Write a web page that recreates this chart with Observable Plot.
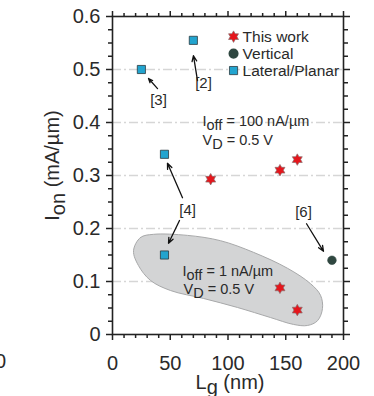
<!DOCTYPE html>
<html>
<head>
<meta charset="utf-8">
<script src="https://cdn.jsdelivr.net/npm/d3@7"></script>
<script src="https://cdn.jsdelivr.net/npm/@observablehq/plot@0.6"></script>
<style>
  html, body { margin: 0; padding: 0; background: #fff; }
  #chart { width: 374px; height: 396px; overflow: hidden; }
</style>
</head>
<body>
<div id="chart"></div>
<script>
// ---- data ----
const thisWorkX = [85, 145, 160, 145, 160];
const thisWorkY = [0.293, 0.31, 0.33, 0.088, 0.046];
const verticalX = [190];
const verticalY = [0.14];
const lateralX = [25, 70, 45, 45];
const lateralY = [0.5, 0.555, 0.34, 0.15];

// shaded region (I_off = 1 nA/µm)
const blobX = [18.2, 24.2, 35.5, 64.9, 93.5, 122.1, 151.5, 171.4, 180.1, 181.8, 177.5, 168.8, 156.7, 136.8, 108.2, 78.8, 50.2, 32.9, 22.5];
const blobY = [0.158, 0.183, 0.189, 0.187, 0.177, 0.155, 0.125, 0.096, 0.074, 0.049, 0.026, 0.017, 0.019, 0.032, 0.051, 0.068, 0.083, 0.102, 0.130];

// reference labels and arrows
const refLabels = ["[3]", "[2]", "[4]", "[6]"];
const refLabelX = [39.8, 78.8, 65, 165.4];
const refLabelY = [0.442, 0.474, 0.234, 0.230];
const arrowX1 = [39, 73.6, 60.6, 58, 168];
const arrowY1 = [0.464, 0.479, 0.258, 0.215, 0.209];
const arrowX2 = [31.2, 70.1, 47.6, 48.5, 182.7];
const arrowY2 = [0.483, 0.526, 0.323, 0.172, 0.157];

// annotations
const noteText = ["I_{off} = 100 nA/µm", "V_{D} = 0.5 V", "I_{off} = 1 nA/µm", "V_{D} = 0.5 V"];
const noteX = [77.9, 77.9, 60.6, 61.5];
const noteY = [0.402, 0.366, 0.120, 0.086];

// legend
const legendLabels = ["This work", "Vertical", "Lateral/Planar"];
const legendY = [0.562, 0.530, 0.498];

// axes
const xTicks = [0, 50, 100, 150, 200];
const xTickLabels = ["0", "50", "100", "150", "200"];
const xMinor = [10, 20, 30, 40, 60, 70, 80, 90, 110, 120, 130, 140, 160, 170, 180, 190];
const yTicks = [0, 0.1, 0.2, 0.3, 0.4, 0.5, 0.6];
const yTickLabels = ["0", "0.1", "0.2", "0.3", "0.4", "0.5", "0.6"];
const yMinor = [0.025, 0.05, 0.075, 0.125, 0.15, 0.175, 0.225, 0.25, 0.275, 0.325, 0.35, 0.375, 0.425, 0.45, 0.475, 0.525, 0.55, 0.575];
const gridY = [0.1, 0.2, 0.3, 0.4, 0.5];

// ---- styling ----
const RED = "#e5161c", CYAN = "#22a4cf", DARK = "#2f4740";
const hexagram = {
  draw(context, size) {
    const R = Math.sqrt(size / Math.PI) * 1.15;
    const r = R / Math.sqrt(3);
    for (let k = 0; k < 12; k++) {
      const a = -Math.PI / 2 + k * Math.PI / 6;
      const rad = k % 2 === 0 ? R : r;
      const x = rad * Math.cos(a), y = rad * Math.sin(a);
      if (k === 0) context.moveTo(x, y); else context.lineTo(x, y);
    }
    context.closePath();
  }
};

const pts = (xs, ys) => xs.map((x, i) => ({x, y: ys[i]}));
const thisWork = pts(thisWorkX, thisWorkY);
const vertical = pts(verticalX, verticalY);
const lateral = pts(lateralX, lateralY);
const blob = pts(blobX, blobY);
const refs = refLabels.map((t, i) => ({t, x: refLabelX[i], y: refLabelY[i]}));
const arrows = arrowX1.map((x1, i) => ({x1, y1: arrowY1[i], x2: arrowX2[i], y2: arrowY2[i]}));
const notes = noteText.map((t, i) => ({t, x: noteX[i], y: noteY[i]}));
const legX = 104.8, legTextX = 112.6;

const TXT = "#2a2a2a";
const axisCommon = {label: null, stroke: "#222", strokeWidth: 1.5, color: TXT};

const chart = Plot.plot({
  width: 374,
  height: 396,
  marginLeft: 112,
  marginRight: 31,
  marginTop: 16,
  marginBottom: 62,
  x: {domain: [0, 200]},
  y: {domain: [0, 0.6]},
  style: {fontFamily: "'Liberation Sans', Arial, Helvetica, sans-serif", fontSize: "20px", color: TXT, background: "#fff", overflow: "visible"},
  marks: [
    Plot.ruleY(gridY, {stroke: "#d6d6d6", strokeWidth: 1.3, strokeDasharray: "9,3,2,3"}),
    Plot.line(blob, {x: "x", y: "y", curve: "catmull-rom-closed", fill: "#d3d4d5", stroke: "#a8a9aa", strokeWidth: 1}),
    // axes: major ticks (outward), minor ticks
    Plot.axisX({...axisCommon, anchor: "bottom", ticks: xTicks, tickSize: 6, tickPadding: 15, fontSize: 20,
      tickFormat: d => xTickLabels[xTicks.indexOf(d)]}),
    Plot.axisX({...axisCommon, anchor: "bottom", ticks: xMinor, tickSize: 4, tickFormat: () => ""}),
    Plot.axisX({...axisCommon, anchor: "top", ticks: xTicks, tickSize: 6, tickFormat: () => ""}),
    Plot.axisX({...axisCommon, anchor: "top", ticks: xMinor, tickSize: 4, tickFormat: () => ""}),
    Plot.axisY({...axisCommon, anchor: "left", ticks: yTicks, tickSize: 6, tickPadding: 6, fontSize: 20,
      tickFormat: d => yTickLabels[yTicks.findIndex(v => Math.abs(v - d) < 1e-9)]}),
    Plot.axisY({...axisCommon, anchor: "left", ticks: yMinor, tickSize: 4, tickFormat: () => ""}),
    Plot.axisY({...axisCommon, anchor: "right", ticks: yTicks, tickSize: 6, tickFormat: () => ""}),
    Plot.axisY({...axisCommon, anchor: "right", ticks: yMinor, tickSize: 4, tickFormat: () => ""}),
    Plot.frame({stroke: "#222", strokeWidth: 1.6}),
    // arrows
    Plot.arrow(arrows, {x1: "x1", y1: "y1", x2: "x2", y2: "y2", stroke: "#111", strokeWidth: 1.3, headLength: 7, headAngle: 45}),
    // data markers
    Plot.dot(lateral, {x: "x", y: "y", symbol: "square", r: 4.6, fill: CYAN, stroke: "#2a3a40", strokeWidth: 0.8}),
    Plot.dot(vertical, {x: "x", y: "y", symbol: "circle", r: 4.3, fill: DARK, stroke: DARK, strokeWidth: 0.6}),
    Plot.dot(thisWork, {x: "x", y: "y", symbol: hexagram, r: 5, fill: RED, stroke: "#8a7070", strokeWidth: 0.7}),
    // labels
    Plot.text(refs, {x: "x", y: "y", text: "t", fontSize: 15, fill: TXT}),
    Plot.text(notes, {x: "x", y: "y", text: "t", fontSize: 14.5, textAnchor: "start", fill: TXT}),
    // legend
    Plot.dot([legendY[0]], {x: () => legX, y: d => d, symbol: hexagram, r: 5, fill: RED, stroke: "#8a7070", strokeWidth: 0.7}),
    Plot.dot([legendY[1]], {x: () => legX, y: d => d, symbol: "circle", r: 4.3, fill: DARK, stroke: DARK}),
    Plot.dot([legendY[2]], {x: () => legX, y: d => d, symbol: "square", r: 4.6, fill: CYAN, stroke: "#2a3a40", strokeWidth: 0.8}),
    Plot.text(legendLabels, {x: () => legTextX, y: (d, i) => legendY[i], text: d => d, fontSize: 15.5, textAnchor: "start", fill: TXT}),
    // axis titles
    Plot.text(["I_{on} (mA/µm)"], {frameAnchor: "left", textAnchor: "middle", dx: -60, dy: -10, rotate: -90, text: d => d, fontSize: 20, fill: TXT}),
    Plot.text(["L_{g} (nm)"], {frameAnchor: "bottom", textAnchor: "middle", dx: 2, dy: 54, text: d => d, fontSize: 20, fill: TXT}),
    // cropped tick label from neighbouring panel
    Plot.text(["0"], {frameAnchor: "bottom-left", textAnchor: "middle", dx: -112, dy: 33, text: d => d, fontSize: 20, fill: TXT})
  ]
});

document.getElementById("chart").appendChild(chart);

// subscripts: "A_{sub}" -> tspan
const NS = "http://www.w3.org/2000/svg";
chart.querySelectorAll("text").forEach(el => {
  const s = el.textContent;
  if (!s.includes("_{")) return;
  const fs = parseFloat(getComputedStyle(el).fontSize) || 15;
  const shift = (fs * 0.28).toFixed(2);
  const parts = s.split(/_\{([^}]*)\}/);
  while (el.firstChild) el.removeChild(el.firstChild);
  let down = false;
  parts.forEach((p, i) => {
    if (!p) return;
    const t = document.createElementNS(NS, "tspan");
    t.textContent = p;
    if (i % 2 === 1) { t.setAttribute("dy", shift); down = true; }
    else if (down) { t.setAttribute("dy", "-" + shift); down = false; }
    el.appendChild(t);
  });
});
</script>
</body>
</html>
